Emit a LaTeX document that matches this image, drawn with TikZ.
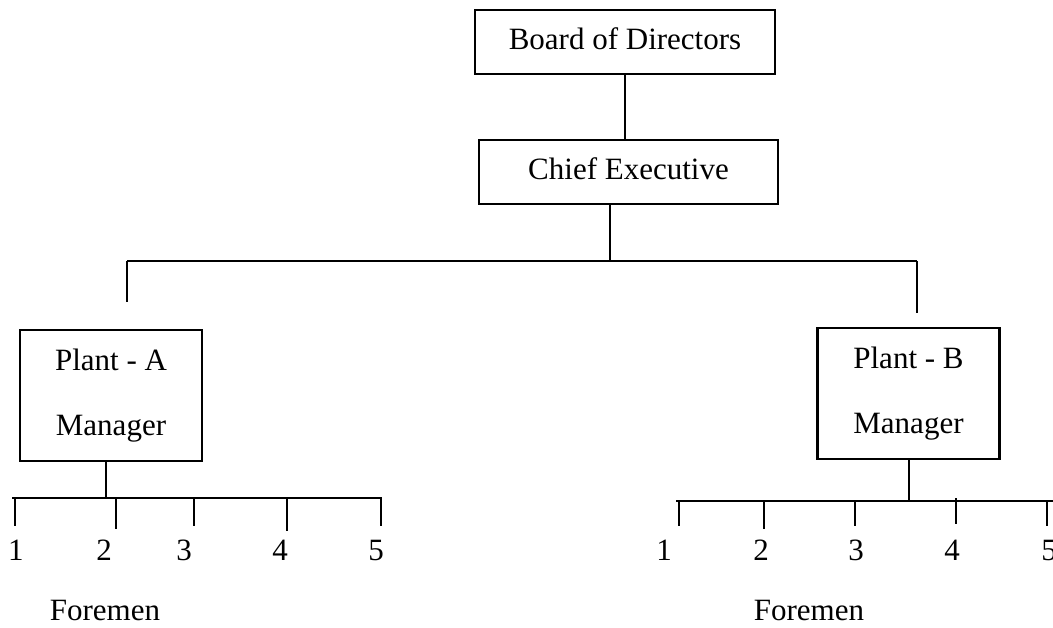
\documentclass[tikz,border=0pt]{standalone}
\usepackage{fontspec}
\setmainfont{Liberation Serif}
\tikzset{
  headbox/.style={draw, line width=2.8pt, inner sep=0pt, text height=21pt, text depth=7pt},
  plantbox/.style={draw, line width=2.8pt, inner sep=0pt, align=center,
    minimum width=182pt, minimum height=131pt, font=\fontsize{31}{65}\selectfont},
  link/.style={line width=2.8pt},
  num/.style={inner sep=0pt, anchor=base},
}

\begin{document}
\begin{tikzpicture}[x=1pt, y=-1pt, font=\fontsize{31}{37}\selectfont]
		%%%%% START %%%%%
		\useasboundingbox (0,0) rectangle (1053,627);
		
		\node[headbox, minimum width=300pt, minimum height=64pt] (board) at (625,42) {Board of Directors};
		\node[headbox, minimum width=299pt, minimum height=64pt] (chief) at (628.5,172) {Chief Executive};
		\node[plantbox] (plantA) at (111,395.5) {Plant - A\\Manager};
		\node[plantbox] (plantB) at (908.5,393.5) {Plant - B\\Manager};
		
		\coordinate (drop) at (610,261);
		\coordinate (barL) at (127,261);
		\coordinate (barR) at (917,261);
		\coordinate (endL) at (127,302);
		\coordinate (endR) at (917,313);
		
		\draw[link] (board.south) -- (board.south |- chief.north);
		\draw[link] (drop |- chief.south) -- (drop);
		\draw[link] (barL) -- (barR);
		\draw[link] (barL) -- (endL);
		\draw[link] (barR) -- (endR);
		
		% plant A foremen
		\coordinate (rowA) at (106,498);
		\draw[link] (plantA.south -| rowA) -- (rowA);
		\draw[link] (12,498) -- (382,498);
		\draw[link] (15,498) -- (15,526);
		\draw[link] (116,498) -- (116,529);
		\draw[link] (194,498) -- (194,526);
		\draw[link] (287,498) -- (287,531);
		\draw[link] (381,498) -- (381,526);
		\node[num] (a1) at (16,560) {1};
		\node[num] (a2) at (104,560) {2};
		\node[num] (a3) at (184,560) {3};
		\node[num] (a4) at (280,560) {4};
		\node[num] (a5) at (376,560) {5};
		\node[num] (foremenA) at (105,620) {Foremen};
		
		% plant B foremen
		\coordinate (rowB) at (909,501);
		\draw[link] (plantB.south -| rowB) -- (rowB);
		\draw[link] (676,501) -- (1056,501);
		\draw[link] (679,501) -- (679,526);
		\draw[link] (764,501) -- (764,529);
		\draw[link] (855,501) -- (855,526);
		\draw[link] (956,498) -- (956,524);
		\draw[link] (1047,501) -- (1047,526);
		\node[num] (b1) at (664,560) {1};
		\node[num] (b2) at (761,560) {2};
		\node[num] (b3) at (856,560) {3};
		\node[num] (b4) at (952,560) {4};
		\node[num] (b5) at (1049,560) {5};
		\node[num] (foremenB) at (809,620) {Foremen};
		%%%%% END %%%%%
\end{tikzpicture}
\end{document}
